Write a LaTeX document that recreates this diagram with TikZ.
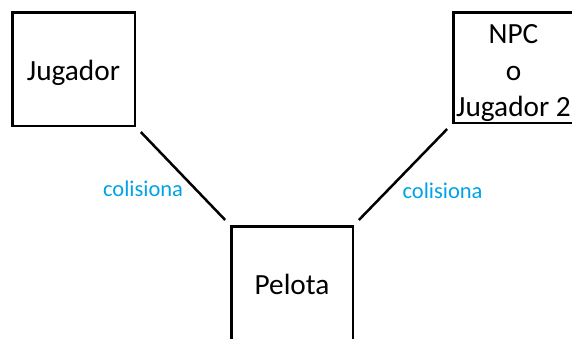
\documentclass[tikz,border=0pt]{standalone}
\usepackage{fontspec}
\setmainfont{Carlito}
\definecolor{paintblue}{RGB}{0,162,232}
\begin{document}
\begin{tikzpicture}[x=1pt,y=-1pt,
  box/.style={draw=black, line width=2.5pt, inner sep=0pt,
    font=\fontsize{29.3}{36.5}\selectfont},
  link/.style={draw=black, line width=2.5pt, shorten <=7pt, shorten >=7pt},
  lbl/.style={text=paintblue, inner sep=0pt, text height=17pt, text depth=0pt,
    font=\fontsize{22.5}{27}\selectfont}]
\useasboundingbox (0,0) rectangle (572,338);
\clip (0,0) rectangle (572,338);
\fill[white] (0,0) rectangle (572,338);
\node[box, minimum width=122.5pt, minimum height=113.5pt, text height=22pt, text depth=0pt]
  (jug) at (73.5,69) {Jugador};
\node[box, minimum width=120.5pt, minimum height=110.5pt, align=center]
  (npc) at (513.5,67.5) {\rule{0pt}{31pt}NPC\\o\\Jugador 2};
\node[box, minimum width=121.5pt, minimum height=113.5pt, text height=22pt, text depth=0pt]
  (pel) at (292,283) {Pelota};
\draw[link] (jug.south east) -- node[lbl, pos=0.62, anchor=east, xshift=-10pt] (l1) {colisiona} (pel.north west);
\draw[link] (npc.south west) -- node[lbl, pos=0.65, anchor=west, xshift=13pt] (l2) {colisiona} (pel.north east);
\end{tikzpicture}
\end{document}
